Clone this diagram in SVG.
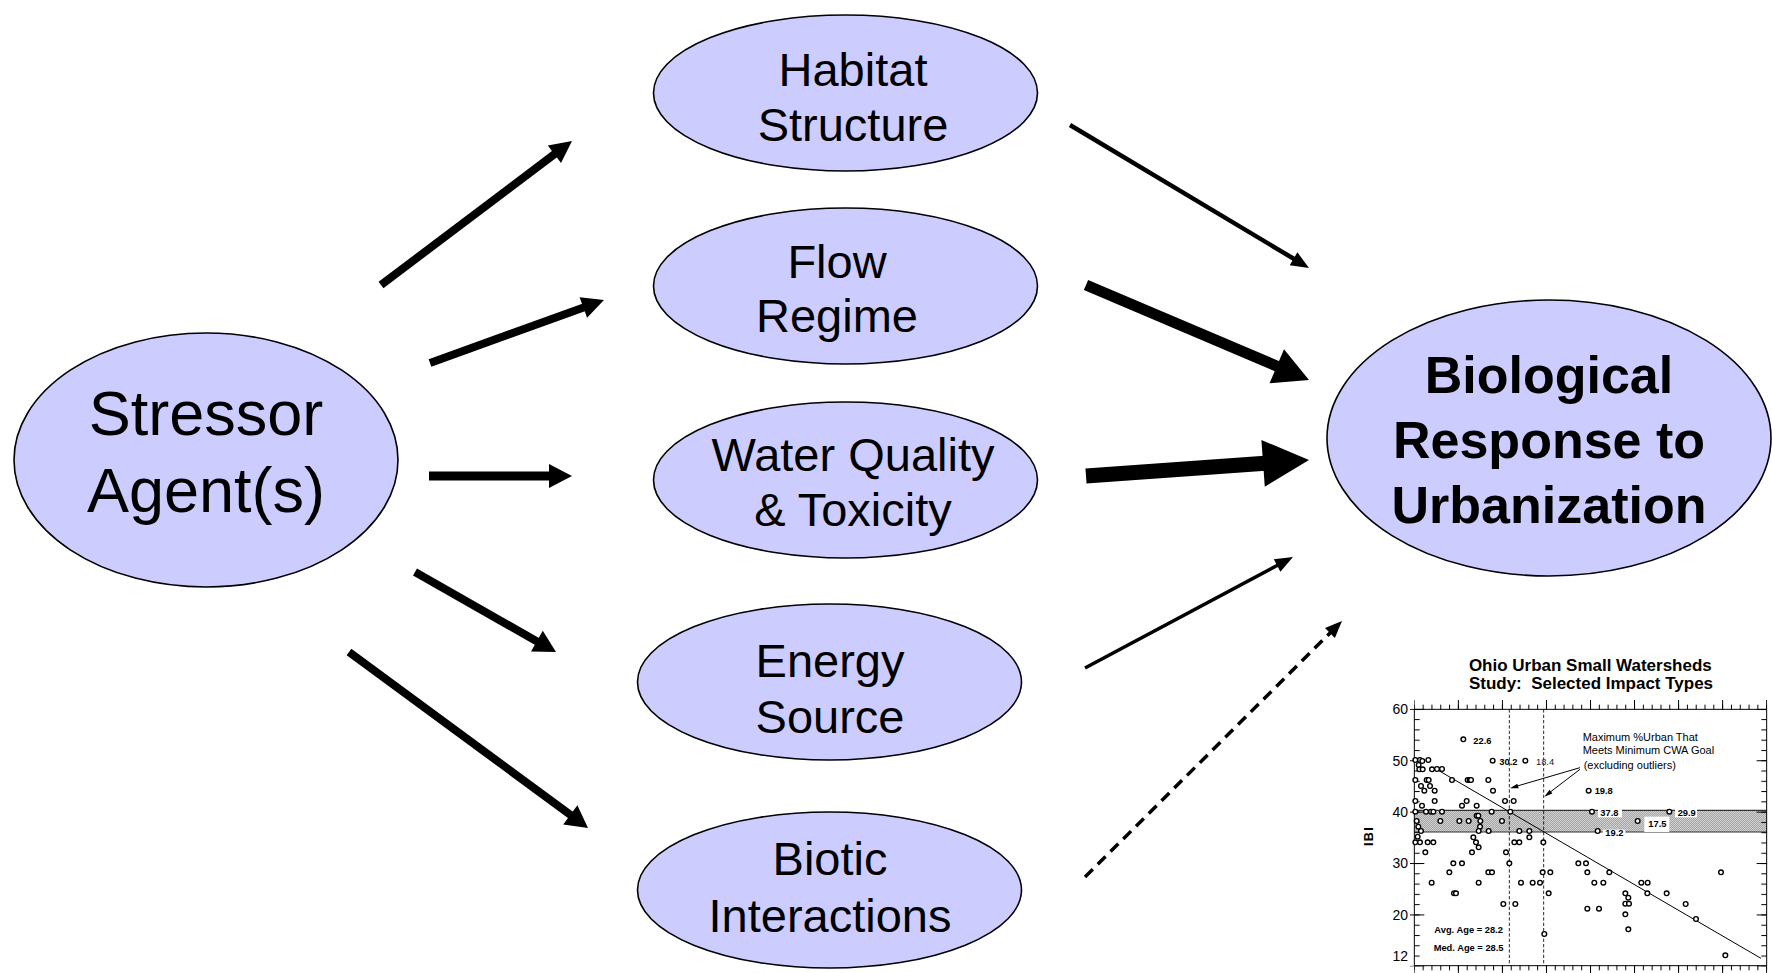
<svg xmlns="http://www.w3.org/2000/svg" width="1772" height="973" viewBox="0 0 1772 973">
<style>
.node ellipse{fill:#CCCCFF;stroke:#000;stroke-width:1.6}
.lbl{font-family:"Liberation Sans",Arial,sans-serif;fill:#000;text-anchor:middle}
.n47{font-size:47px}
.n63{font-size:63px}
.bio{font-size:52px;font-weight:bold}
.shaft{stroke:#000;fill:none;stroke-linecap:butt}
.head{fill:#000}
.ch{font-family:"Liberation Sans",Arial,sans-serif;fill:#000}
.pt{fill:#fff;stroke:#000;stroke-width:4.2}
.ax{stroke:#000;stroke-width:3;fill:none}
</style>
<defs>
<pattern id="hatch" patternUnits="userSpaceOnUse" width="6" height="6">
<rect width="6" height="6" fill="#cfcfcf"/>
<path d="M0 6L6 0M-1 1L1 -1M5 7L7 5" stroke="#7a7a7a" stroke-width="1.4"/>
</pattern>
<pattern id="tkTopMin" patternUnits="userSpaceOnUse" x="173.5" y="0" width="26.425" height="1000">
<rect x="0" y="0" width="3" height="1000" fill="#000"/>
</pattern>
<pattern id="tkTopMaj" patternUnits="userSpaceOnUse" x="173.5" y="0" width="132.125" height="1000">
<rect x="0" y="0" width="3" height="1000" fill="#000"/>
</pattern>
<pattern id="tkLeftMin" patternUnits="userSpaceOnUse" x="0" y="176.5" width="2000" height="30.84">
<rect x="0" y="0" width="2000" height="3" fill="#000"/>
</pattern>
<pattern id="tkLeftMaj" patternUnits="userSpaceOnUse" x="0" y="176.5" width="2000" height="154.2">
<rect x="0" y="0" width="2000" height="3" fill="#000"/>
</pattern>
</defs>

<g id="connectors">
<line class="shaft" x1="381" y1="285" x2="556" y2="153" stroke-width="8"/>
<polygon class="head" points="572,141 561,163 547.8,145.5"/>
<line class="shaft" x1="430" y1="363" x2="585" y2="307" stroke-width="8"/>
<polygon class="head" points="604,300 587.1,317.8 579.6,297.2"/>
<line class="shaft" x1="429" y1="476" x2="551" y2="476" stroke-width="9"/>
<polygon class="head" points="572,476 549,464 549,488"/>
<line class="shaft" x1="415" y1="572" x2="538" y2="642" stroke-width="8"/>
<polygon class="head" points="556,652 531,651.6 542.8,630.7"/>
<line class="shaft" x1="349" y1="652" x2="572" y2="816" stroke-width="8"/>
<polygon class="head" points="588,828 563.2,824.6 577.4,805.3"/>
<line class="shaft" x1="1070" y1="125" x2="1295" y2="259.5" stroke-width="4.5"/>
<polygon class="head" points="1309,268 1289.7,265.2 1297.4,252.3"/>
<line class="shaft" x1="1086" y1="285" x2="1279" y2="367" stroke-width="11"/>
<polygon class="head" points="1309,380 1269.5,383.3 1284,349.3"/>
<line class="shaft" x1="1086" y1="476" x2="1265" y2="463.2" stroke-width="15"/>
<polygon class="head" points="1309,460 1264.8,486.7 1261.4,439.9"/>
<line class="shaft" x1="1085" y1="668" x2="1279" y2="564.5" stroke-width="3.5"/>
<polygon class="head" points="1293,557 1280.4,571.7 1273.8,559.3"/>
<line class="shaft" x1="1085" y1="877" x2="1331" y2="632" stroke-width="3.5" stroke-dasharray="11 7"/>
<polygon class="head" points="1342,621 1334.9,638 1325,628"/>
</g>

<g id="node-stressor" class="node">
<ellipse cx="206" cy="460" rx="192" ry="127"/>
<text class="lbl n63" x="206" y="435">Stressor</text>
<text class="lbl n63" x="206" y="512">Agent(s)</text>
</g>
<g id="node-habitat" class="node">
<ellipse cx="845.5" cy="93" rx="192" ry="78"/>
<text class="lbl n47" x="853" y="86">Habitat</text>
<text class="lbl n47" x="853" y="141">Structure</text>
</g>
<g id="node-flow" class="node">
<ellipse cx="845.5" cy="286" rx="192" ry="78"/>
<text class="lbl n47" x="837" y="278">Flow</text>
<text class="lbl n47" x="837" y="332">Regime</text>
</g>
<g id="node-water" class="node">
<ellipse cx="845.5" cy="480" rx="192" ry="78"/>
<text class="lbl n47" x="853" y="471">Water Quality</text>
<text class="lbl n47" x="853" y="526">&amp; Toxicity</text>
</g>
<g id="node-energy" class="node">
<ellipse cx="829.5" cy="682" rx="192" ry="78"/>
<text class="lbl n47" x="830" y="677">Energy</text>
<text class="lbl n47" x="830" y="733">Source</text>
</g>
<g id="node-biotic" class="node">
<ellipse cx="829.5" cy="890" rx="192" ry="78"/>
<text class="lbl n47" x="830" y="875">Biotic</text>
<text class="lbl n47" x="830" y="932">Interactions</text>
</g>
<g id="node-bio" class="node">
<ellipse cx="1549" cy="438" rx="222" ry="138"/>
<text class="lbl bio" x="1549" y="393">Biological</text>
<text class="lbl bio" x="1549" y="458">Response to</text>
<text class="lbl bio" x="1549" y="523">Urbanization</text>
</g>

<g id="chart" transform="translate(1356 650) scale(0.333333)">
<text class="ch" x="703" y="62" font-size="51" font-weight="bold" text-anchor="middle">Ohio Urban Small Watersheds</text>
<text class="ch" x="705" y="117" font-size="51" font-weight="bold" text-anchor="middle" xml:space="preserve">Study:  Selected Impact Types</text>
<rect x="175" y="481" width="1057" height="65" fill="url(#hatch)"/>
<line x1="175" y1="481" x2="1232" y2="481" stroke="#333" stroke-width="3.5"/>
<line x1="175" y1="546" x2="1232" y2="546" stroke="#333" stroke-width="3.5"/>
<rect x="726" y="472" width="72" height="30" fill="#fff"/>
<rect x="957" y="472" width="66" height="30" fill="#fff"/>
<rect x="865" y="500" width="75" height="46" fill="#fff"/>
<rect x="740" y="539" width="68" height="24" fill="#fff"/>
<rect x="175" y="150" width="1059" height="28" fill="url(#tkTopMaj)"/>
<rect x="175" y="164" width="1059" height="14" fill="url(#tkTopMin)"/>
<rect x="175" y="947" width="1059" height="28" fill="url(#tkTopMaj)"/>
<rect x="175" y="947" width="1059" height="14" fill="url(#tkTopMin)"/>
<rect x="175" y="176" width="30" height="773" fill="url(#tkLeftMaj)"/>
<rect x="175" y="176" width="16" height="773" fill="url(#tkLeftMin)"/>
<rect x="162" y="176" width="13" height="773" fill="url(#tkLeftMaj)"/>
<rect x="1202" y="176" width="30" height="773" fill="url(#tkLeftMaj)"/>
<rect x="1216" y="176" width="16" height="773" fill="url(#tkLeftMin)"/>
<path class="ax" d="M175 178H1232V947H175Z"/>
<line x1="460" y1="178" x2="460" y2="947" stroke="#000" stroke-width="2.5" stroke-dasharray="10 6"/>
<line x1="563" y1="178" x2="563" y2="947" stroke="#000" stroke-width="2.5" stroke-dasharray="10 6"/>
<line x1="240" y1="357" x2="1215" y2="925" stroke="#000" stroke-width="3"/>
<g font-size="42" text-anchor="end" class="ch">
<text x="156" y="193">60</text>
<text x="156" y="347">50</text>
<text x="156" y="501">40</text>
<text x="156" y="655">30</text>
<text x="156" y="810">20</text>
<text x="156" y="933">12</text>
</g>
<text class="ch" font-size="38" font-weight="bold" text-anchor="middle" letter-spacing="4" transform="translate(52 558) rotate(-90)">IBI</text>
<g id="points">
<circle class="pt" cx="322" cy="268" r="7"/><circle class="pt" cx="410" cy="332" r="7"/><circle class="pt" cx="508" cy="332" r="7"/>
<circle class="pt" cx="178" cy="330" r="7"/><circle class="pt" cx="192" cy="330" r="7"/><circle class="pt" cx="199" cy="333" r="7"/><circle class="pt" cx="217" cy="330" r="7"/>
<circle class="pt" cx="188" cy="345" r="7"/><circle class="pt" cx="190" cy="358" r="7"/><circle class="pt" cx="200" cy="358" r="7"/><circle class="pt" cx="228" cy="358" r="7"/><circle class="pt" cx="243" cy="357" r="7"/><circle class="pt" cx="258" cy="357" r="7"/>
<circle class="pt" cx="178" cy="390" r="7"/><circle class="pt" cx="212" cy="390" r="7"/><circle class="pt" cx="218" cy="390" r="7"/><circle class="pt" cx="288" cy="390" r="7"/><circle class="pt" cx="335" cy="390" r="7"/><circle class="pt" cx="341" cy="390" r="7"/><circle class="pt" cx="345" cy="390" r="7"/><circle class="pt" cx="397" cy="390" r="7"/>
<circle class="pt" cx="195" cy="408" r="7"/><circle class="pt" cx="222" cy="408" r="7"/><circle class="pt" cx="205" cy="422" r="7"/><circle class="pt" cx="236" cy="422" r="7"/><circle class="pt" cx="411" cy="422" r="7"/>
<circle class="pt" cx="178" cy="453" r="7"/><circle class="pt" cx="236" cy="453" r="7"/><circle class="pt" cx="332" cy="453" r="7"/><circle class="pt" cx="447" cy="453" r="7"/><circle class="pt" cx="473" cy="453" r="7"/>
<circle class="pt" cx="198" cy="467" r="7"/><circle class="pt" cx="318" cy="467" r="7"/><circle class="pt" cx="362" cy="467" r="7"/>
<circle class="pt" cx="178" cy="485" r="7"/><circle class="pt" cx="210" cy="485" r="7"/><circle class="pt" cx="225" cy="485" r="7"/><circle class="pt" cx="232" cy="485" r="7"/><circle class="pt" cx="258" cy="485" r="7"/><circle class="pt" cx="407" cy="485" r="7"/><circle class="pt" cx="463" cy="485" r="7"/><circle class="pt" cx="708" cy="485" r="7"/><circle class="pt" cx="940" cy="485" r="7"/>
<circle class="pt" cx="362" cy="497" r="7"/><circle class="pt" cx="367" cy="497" r="7"/>
<circle class="pt" cx="182" cy="513" r="7"/><circle class="pt" cx="253" cy="513" r="7"/><circle class="pt" cx="310" cy="513" r="7"/><circle class="pt" cx="338" cy="513" r="7"/><circle class="pt" cx="373" cy="513" r="7"/><circle class="pt" cx="438" cy="513" r="7"/><circle class="pt" cx="845" cy="513" r="7"/>
<circle class="pt" cx="372" cy="530" r="7"/><circle class="pt" cx="187" cy="530" r="7"/>
<circle class="pt" cx="195" cy="543" r="7"/><circle class="pt" cx="368" cy="543" r="7"/><circle class="pt" cx="398" cy="543" r="7"/><circle class="pt" cx="490" cy="543" r="7"/><circle class="pt" cx="520" cy="543" r="7"/><circle class="pt" cx="725" cy="543" r="7"/>
<circle class="pt" cx="185" cy="560" r="7"/><circle class="pt" cx="352" cy="562" r="7"/><circle class="pt" cx="520" cy="562" r="7"/>
<circle class="pt" cx="178" cy="577" r="7"/><circle class="pt" cx="192" cy="577" r="7"/><circle class="pt" cx="215" cy="577" r="7"/><circle class="pt" cx="232" cy="577" r="7"/><circle class="pt" cx="360" cy="577" r="7"/><circle class="pt" cx="475" cy="577" r="7"/><circle class="pt" cx="490" cy="577" r="7"/><circle class="pt" cx="562" cy="577" r="7"/>
<circle class="pt" cx="368" cy="592" r="7"/><circle class="pt" cx="208" cy="607" r="7"/><circle class="pt" cx="348" cy="607" r="7"/><circle class="pt" cx="450" cy="607" r="7"/>
<circle class="pt" cx="292" cy="640" r="7"/><circle class="pt" cx="318" cy="640" r="7"/><circle class="pt" cx="460" cy="640" r="7"/><circle class="pt" cx="667" cy="640" r="7"/><circle class="pt" cx="690" cy="640" r="7"/>
<circle class="pt" cx="280" cy="667" r="7"/><circle class="pt" cx="397" cy="667" r="7"/><circle class="pt" cx="408" cy="667" r="7"/><circle class="pt" cx="560" cy="667" r="7"/><circle class="pt" cx="583" cy="667" r="7"/><circle class="pt" cx="694" cy="667" r="7"/><circle class="pt" cx="760" cy="667" r="7"/><circle class="pt" cx="1095" cy="667" r="7"/>
<circle class="pt" cx="227" cy="698" r="7"/><circle class="pt" cx="368" cy="698" r="7"/><circle class="pt" cx="495" cy="698" r="7"/><circle class="pt" cx="530" cy="698" r="7"/><circle class="pt" cx="552" cy="698" r="7"/><circle class="pt" cx="715" cy="698" r="7"/><circle class="pt" cx="742" cy="698" r="7"/><circle class="pt" cx="856" cy="698" r="7"/><circle class="pt" cx="875" cy="698" r="7"/>
<circle class="pt" cx="294" cy="730" r="7"/><circle class="pt" cx="300" cy="730" r="7"/><circle class="pt" cx="578" cy="730" r="7"/><circle class="pt" cx="808" cy="730" r="7"/><circle class="pt" cx="874" cy="730" r="7"/><circle class="pt" cx="932" cy="730" r="7"/>
<circle class="pt" cx="817" cy="743" r="7"/><circle class="pt" cx="442" cy="762" r="7"/><circle class="pt" cx="478" cy="762" r="7"/><circle class="pt" cx="808" cy="761" r="7"/><circle class="pt" cx="819" cy="761" r="7"/><circle class="pt" cx="989" cy="762" r="7"/>
<circle class="pt" cx="694" cy="776" r="7"/><circle class="pt" cx="729" cy="776" r="7"/><circle class="pt" cx="808" cy="793" r="7"/><circle class="pt" cx="1020" cy="807" r="7"/>
<circle class="pt" cx="565" cy="852" r="7"/><circle class="pt" cx="817" cy="838" r="7"/><circle class="pt" cx="1108" cy="916" r="7"/><circle class="pt" cx="698" cy="422" r="7"/>
</g>
<g class="ch" font-size="28" font-weight="bold">
<text x="352" y="281">22.6</text>
<text x="430" y="345">30.2</text>
<text x="540" y="345" font-weight="normal" fill="#222">18.4</text>
<text x="716" y="432">19.8</text>
<text x="733" y="497">37.8</text>
<text x="965" y="497">29.9</text>
<text x="877" y="532">17.5</text>
<text x="748" y="558">19.2</text>
<text x="235" y="848">Avg. Age = 28.2</text>
<text x="233" y="903">Med. Age = 28.5</text>
</g>
<g class="ch" font-size="33">
<text x="680" y="272">Maximum %Urban That</text>
<text x="680" y="312">Meets Minimum CWA Goal</text>
<text x="683" y="358">(excluding outliers)</text>
</g>
<line x1="672" y1="353" x2="484" y2="408" stroke="#000" stroke-width="3"/>
<polygon points="462,415 484,401.2 488,414.6" fill="#000"/>
<line x1="672" y1="358" x2="583" y2="426" stroke="#000" stroke-width="3"/>
<polygon points="565,440 580.6,419.2 589.1,430.4" fill="#000"/>
</g>
</svg>
